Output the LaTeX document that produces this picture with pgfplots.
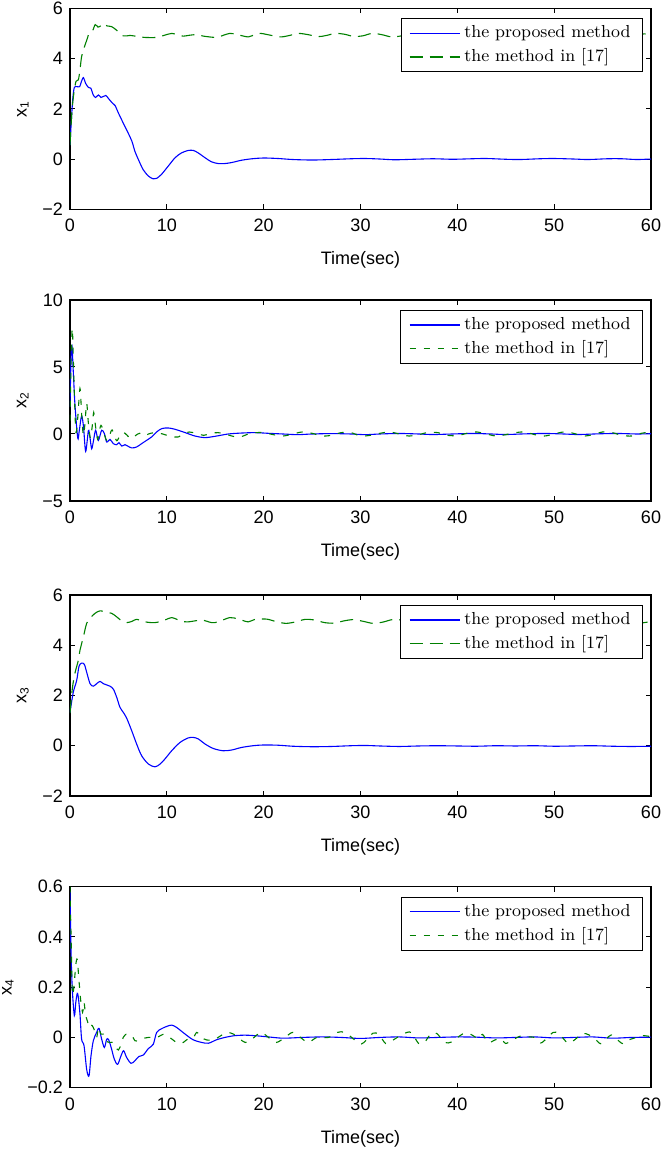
\documentclass[border=0pt]{standalone}
\usepackage{fontspec}
\setsansfont{Liberation Sans}
\usepackage{pgfplots}
\pgfplotsset{compat=1.18}
\definecolor{mblue}{rgb}{0,0,1}
\definecolor{mgreen}{rgb}{0,0.5,0}

\pgfplotsset{
  statefig/.style={
    scale only axis, width=290.5pt, height=100.5pt,
    xmin=0, xmax=60, xtick={0,10,...,60},
    xticklabels={0,10,20,30,40,50,60},
    tick align=inside, major tick length=2.5pt,
    axis line style={line width=0.6pt},
    every tick/.style={black, line width=0.5pt},
    ticklabel style={font=\sffamily\fontsize{9}{10}\selectfont},
    xticklabel style={yshift=-1.5pt},
    label style={font=\sffamily\fontsize{9}{10}\selectfont},
    xlabel={Time(sec)},
    xlabel style={yshift=-3pt},
    legend style={at={(1,1)}, anchor=north east, xshift=-4pt, yshift=-5pt,
      font=\rmfamily\fontsize{8.7}{10.5}\selectfont, draw=black, line width=0.5pt,
      inner xsep=4pt, inner ysep=1.5pt},
    legend cell align=left,
    legend image code/.code={\draw[#1, line width=0.7pt] (0pt,0pt) -- (25pt,0pt);},
  },
  prop/.style={mblue, line width=0.55pt, smooth},
  refA/.style={mgreen, line width=0.55pt, smooth, dash pattern=on 6.5pt off 3.5pt},
  refB/.style={mgreen, line width=0.55pt, smooth, dash pattern=on 3pt off 4pt},
}

\begin{document}
\begin{tikzpicture}
\useasboundingbox (0,0) rectangle (331pt,575pt);

% ---- x1
\begin{axis}[statefig, at={(35pt,570.85pt)}, anchor=north west,
  ymin=-2, ymax=6, ytick={-2,0,2,4,6}, yticklabels={−2,0,2,4,6},
  ylabel={x\textsubscript{1}}]
\addplot[prop] coordinates {
(0,0.55) (0.15,1.6) (0.3,2.45) (0.45,2.85) (0.7,2.88) (1.0,2.88) (1.15,3.05) (1.38,3.24)
(1.6,3.02) (1.9,2.85) (2.15,2.82) (2.4,2.55) (2.65,2.45) (2.93,2.55) (3.2,2.45) (3.45,2.49)
(3.7,2.53) (3.95,2.42) (4.3,2.26) (4.65,2.13) (5.0,1.83) (5.5,1.43) (6.0,1.04) (6.4,0.7)
(6.7,0.31) (7.06,-0.02) (7.55,-0.42) (8.1,-0.68) (8.6,-0.79) (8.95,-0.77) (9.45,-0.61)
(10.15,-0.28) (10.85,0.05) (11.5,0.24) (12.2,0.34) (12.75,0.34) (13.25,0.24) (13.95,0.05)
(14.6,-0.11) (15.3,-0.18) (16.0,-0.18) (16.7,-0.14) (17.7,-0.05) (18.8,0.01) (20,0.04)
(21.5,0.02) (23,-0.02) (25,-0.04) (27,-0.02) (29,0.01) (30.5,0.02) (32,0.0) (33.5,-0.03)
(35.5,-0.01) (37.5,0.01) (39.5,-0.01) (41.5,0.01) (43,0.02) (45,-0.01) (46.5,-0.02)
(48.5,0.01) (50,0.02) (52,0.0) (53.5,-0.02) (55.5,0.01) (57,0.01) (58.5,-0.02) (60,0.0)
};
\addlegendentry{the proposed method}
\addplot[refA] coordinates {
(0,0.55) (0.2,1.9) (0.4,2.62) (0.62,3.09) (0.86,3.15) (1.03,3.55) (1.2,4.08) (1.45,4.42)
(1.8,4.81) (2.0,5.04) (2.35,5.12) (2.6,5.35) (2.9,5.25) (3.1,5.28) (3.45,5.4) (3.8,5.3)
(4.3,5.27) (4.8,5.13) (5.5,4.9) (6.2,4.92) (6.9,4.88) (7.7,4.84) (8.95,4.84) (9.7,4.92)
(10.5,5.0) (11.2,4.94) (11.7,4.89) (12.4,4.93) (13.1,4.95) (13.8,4.89) (15.1,4.84)
(15.8,4.92) (16.5,5.0) (17.2,4.96) (18.4,4.86) (19.1,4.96) (19.7,5.0) (20.8,4.92)
(21.8,4.86) (22.8,4.93) (23.6,5.0) (24.6,4.95) (25.6,4.87) (26.5,4.92) (27.4,5.0)
(28.3,4.97) (29.3,4.88) (30.2,4.90) (31.2,5.0) (32.2,4.95) (33.2,4.86) (34.2,4.90)
(35.2,4.99) (36.1,4.96) (37.1,4.87) (38.1,4.91) (39.1,5.0) (40,4.95) (41,4.86) (42,4.91)
(43,5.0) (44,4.95) (45,4.86) (46,4.9) (47,4.99) (48,4.97) (49,4.88) (50,4.9) (51,5.0)
(52,4.96) (53,4.86) (54,4.9) (55,5.0) (56,4.96) (57,4.87) (58,4.88) (59,4.97) (60,4.99)
};
\addlegendentry{the method in [17]}
\end{axis}

% ---- x2
\begin{axis}[statefig, at={(35pt,425pt)}, anchor=north west,
  ymin=-5, ymax=10, ytick={-5,0,5,10}, yticklabels={−5,0,5,10},
  ylabel={x\textsubscript{2}}]
\addplot[prop] coordinates {
(0,2.0) (0.1,5.5) (0.2,6.6) (0.35,4.5) (0.52,2.1) (0.8,-0.3) (0.95,0.2) (1.2,1.35)
(1.4,0.5) (1.62,-1.3) (1.9,0.25) (2.05,-0.2) (2.24,-1.1) (2.45,-0.4) (2.65,0.28)
(2.93,-0.47) (3.27,0.28) (3.55,0.03) (3.79,-0.6) (4.13,-0.4) (4.47,-0.72) (4.82,-0.8)
(5.06,-0.65) (5.34,-0.9) (5.68,-0.8) (5.96,-0.9) (6.37,-1.04) (6.88,-0.97) (7.4,-0.72)
(7.92,-0.47) (8.43,-0.22) (8.95,0.15) (9.47,0.4) (10.15,0.45) (10.84,0.35) (11.9,0.1)
(12.9,-0.15) (13.94,-0.27) (15,-0.17) (16.35,0) (17.7,0.07) (19.1,0.1) (20.5,0.05)
(22,0.0) (23.5,-0.05) (25,0.0) (27,0.03) (29,0.0) (30.5,-0.05) (32,0.0) (34,0.04)
(36,0.0) (37.5,-0.04) (39.5,0.0) (41.5,0.04) (43.5,0.0) (45,-0.04) (47,0.01) (49,0.04)
(51,0.0) (52.5,-0.04) (54.5,0.01) (56.5,0.04) (58.5,0.0) (60,0.02)
};
\addlegendentry{the proposed method}
\addplot[refB] coordinates {
(0,1.0) (0.12,5.5) (0.24,7.9) (0.4,4.2) (0.6,0.2) (0.8,1.2) (1.03,3.4) (1.2,1.5)
(1.38,-0.1) (1.55,0.8) (1.72,2.3) (1.9,0.8) (2.1,-0.3) (2.3,0.6) (2.45,1.6) (2.65,0.5)
(2.85,-0.4) (3.0,0.1) (3.2,0.65) (3.45,0.2) (3.8,-0.5) (4.1,-0.1) (4.35,0.3) (4.8,-0.5)
(5.1,-0.2) (5.5,0.12) (5.9,-0.1) (6.3,-0.35) (6.8,-0.1) (7.2,0.05) (7.7,-0.15) (8.1,0.0)
(8.7,0.1) (9.3,0.05) (9.8,-0.05) (10.5,-0.2) (11.2,-0.22) (11.7,0.0) (12.3,0.15)
(13,0.05) (13.8,-0.1) (14.6,0.05) (15.3,0.1) (16,0.0) (17,-0.2) (17.7,-0.2) (18.4,0.0)
(19.2,0.1) (20,0.1) (21,-0.05) (22,-0.15) (23,0.0) (24,0.15) (25,0.05) (26,-0.15)
(27,-0.1) (28,0.1) (29,0.1) (30,-0.15) (31,-0.1) (32,0.05) (33,0.15) (34,0.0) (35,-0.15)
(36,-0.05) (37,0.12) (38,0.1) (39,-0.1) (40,-0.12) (41,0.05) (42,0.15) (43,0.0)
(44,-0.15) (45,-0.05) (46,0.1) (47,0.15) (48,-0.05) (49,-0.15) (50,0.0) (51,0.15)
(52,0.05) (53,-0.15) (54,-0.05) (55,0.15) (56,0.1) (57,-0.1) (58,-0.15) (59,0.05) (60,0.15)
};
\addlegendentry{the method in [17]}
\end{axis}

% ---- x3
\begin{axis}[statefig, at={(35pt,277.5pt)}, anchor=north west,
  ymin=-2, ymax=6, ytick={-2,0,2,4,6}, yticklabels={−2,0,2,4,6},
  ylabel={x\textsubscript{3}}]
\addplot[prop] coordinates {
(0,1.33) (0.34,2.13) (0.69,2.6) (0.93,3.16) (1.2,3.29) (1.48,3.24) (1.72,2.93)
(2.07,2.47) (2.41,2.37) (2.75,2.47) (3.1,2.56) (3.44,2.47) (3.79,2.42) (4.13,2.37)
(4.48,2.25) (4.82,1.93) (5.16,1.53) (5.5,1.33) (5.85,1.1) (6.37,0.6) (6.88,0.07)
(7.4,-0.4) (8.1,-0.73) (8.78,-0.84) (9.3,-0.73) (9.8,-0.53) (10.5,-0.2) (11.36,0.13)
(12.2,0.31) (12.74,0.33) (13.25,0.27) (13.94,0.07) (14.8,-0.11) (15.8,-0.2) (16.7,-0.17)
(17.7,-0.07) (18.9,0.0) (20,0.03) (21.5,0.02) (23,-0.02) (25,-0.04) (27,-0.03) (29,0.0)
(30.5,0.01) (32,-0.01) (34,-0.03) (36,-0.01) (38,0.0) (40,-0.01) (42,-0.02) (44,0.0)
(46,-0.01) (48,0.0) (50,-0.02) (52,-0.01) (54,0.0) (56,-0.02) (58,-0.03) (60,-0.02)
};
\addlegendentry{the proposed method}
\addplot[refA] coordinates {
(0,1.3) (0.25,2.3) (0.52,2.9) (0.86,3.4) (1.03,3.8) (1.38,4.33) (1.72,4.87) (2.07,5.07)
(2.58,5.27) (3.1,5.37) (3.6,5.33) (4.3,5.27) (4.82,5.13) (5.34,4.97) (5.85,4.9)
(6.4,4.95) (6.88,5.03) (7.75,4.93) (8.78,4.9) (9.8,5.0) (10.5,5.1) (11.5,4.96)
(12.2,4.93) (13.6,5.0) (14.63,4.9) (15.3,4.93) (16.5,5.1) (17.4,5.04) (18.4,4.93)
(19.1,5.03) (20.3,5.04) (21.3,4.94) (22.3,4.87) (23.3,4.93) (24.3,5.03) (25.3,5.0)
(26.3,4.9) (27.3,4.88) (28.3,4.97) (29.3,5.02) (30.3,4.95) (31.3,4.87) (32.3,4.92)
(33.3,5.02) (34.3,5.0) (35.3,4.9) (36.3,4.88) (37.3,4.97) (38.3,5.03) (39.3,4.95)
(40.3,4.87) (41.3,4.92) (42.3,5.02) (43.3,5.0) (44.3,4.9) (45.3,4.88) (46.3,4.97)
(47.3,5.03) (48.3,4.95) (49.3,4.87) (50.3,4.92) (51.3,5.02) (52.3,5.0) (53.3,4.9)
(54.3,4.88) (55.3,4.97) (56.3,5.03) (57.3,4.95) (58.3,4.87) (59.3,4.9) (60,4.95)
};
\addlegendentry{the method in [17]}
\end{axis}

% ---- x4
\begin{axis}[statefig, at={(35pt,131.65pt)}, anchor=north west,
  ymin=-0.2, ymax=0.6, ytick={-0.2,0,0.2,0.4,0.6}, yticklabels={−0.2,0,0.2,0.4,0.6},
  ylabel={x\textsubscript{4}}]
\addplot[prop] coordinates {
(0,0.58) (0.1,0.35) (0.24,0.19) (0.45,0.087) (0.6,0.14) (0.75,0.175) (0.86,0.16)
(1.03,0.093) (1.2,-0.007) (1.45,-0.033) (1.72,-0.127) (1.96,-0.153) (2.17,-0.073)
(2.41,-0.013) (2.75,0.02) (3.0,0.036) (3.27,-0.007) (3.55,-0.04) (3.79,-0.007)
(4.0,-0.01) (4.3,-0.047) (4.58,-0.087) (4.92,-0.107) (5.27,-0.073) (5.54,-0.053)
(5.85,-0.08) (6.3,-0.103) (6.7,-0.093) (7.1,-0.076) (7.57,-0.07) (8.1,-0.044)
(8.6,-0.027) (8.95,0.02) (9.47,0.035) (10.0,0.044) (10.5,0.049) (11.0,0.04) (11.9,0.013)
(12.7,-0.009) (13.6,-0.02) (14.3,-0.023) (15.15,-0.009) (16.0,0) (17.0,0.007)
(18.1,0.009) (19.1,0.007) (20.5,0.002) (22,-0.003) (24,0.0) (26,0.002) (28,0.0)
(30,-0.004) (32,0.0) (34,0.002) (36,-0.002) (38,0.0) (40,0.002) (42,0.001) (44,-0.002)
(46,0.0) (48,0.002) (50,-0.002) (52,0.0) (54,0.002) (56,-0.003) (58,0.0) (60,0.001)
};
\addlegendentry{the proposed method}
\addplot[refB] coordinates {
(0,0.6) (0.1,0.42) (0.24,0.18) (0.4,0.2) (0.6,0.29) (0.75,0.31) (0.9,0.24) (1.1,0.15)
(1.3,0.1) (1.45,0.14) (1.6,0.09) (1.8,0.065) (2.0,0.04) (2.2,0.05) (2.4,0.04) (2.6,0.02)
(2.76,0.0) (2.95,0.04) (3.2,0.013) (3.45,0.013) (3.7,-0.013) (4.1,-0.02) (4.5,-0.02)
(4.75,-0.04) (5.0,-0.05) (5.25,-0.03) (5.5,0.0) (5.8,0.013) (6.1,0.012) (6.4,0.007)
(6.7,-0.013) (7.0,-0.015) (7.5,-0.005) (8.1,0.0) (9.0,0.0) (9.65,0.013) (10.3,0.0)
(10.8,-0.015) (11.2,-0.024) (11.7,-0.02) (12.2,-0.005) (12.75,0.0) (13.1,0.02) (13.6,0.0)
(14.1,-0.01) (14.8,-0.01) (15.5,0.005) (16.2,0.02) (16.9,0.013) (17.5,-0.005)
(18.1,-0.02) (18.7,-0.01) (19.3,0.01) (19.8,0.02) (20.5,0.0) (21.3,-0.02) (22.2,0.0)
(23.0,0.02) (23.8,0.0) (24.6,-0.02) (25.5,0.0) (26.7,0.0) (27.6,0.02) (28.4,0.02)
(29.4,-0.01) (30.1,-0.026) (30.6,-0.01) (31.3,0.017) (31.9,0.012) (32.6,-0.024)
(33.3,-0.012) (34.0,0.005) (34.8,0.02) (35.3,0.018) (36.0,-0.024) (36.6,-0.02)
(37.3,0.016) (37.9,0.015) (38.7,-0.02) (39.4,-0.018) (40.2,0.005) (40.8,0.018)
(41.4,0.012) (42.2,-0.005) (42.6,0.012) (43.2,-0.02) (43.9,-0.01) (44.5,-0.005)
(45.0,-0.024) (45.7,-0.01) (46.5,0.005) (47.2,0.002) (48.0,0.0) (48.6,-0.022)
(49.2,-0.005) (49.9,0.02) (50.5,0.015) (51.4,-0.022) (52.1,-0.01) (52.9,0.016)
(53.6,0.01) (54.2,-0.005) (54.8,-0.025) (55.4,-0.005) (55.9,0.01) (56.4,-0.005)
(57.1,-0.025) (57.7,-0.01) (58.5,0.0) (59.2,0.007) (60,0.003)
};
\addlegendentry{the method in [17]}
\end{axis}
\end{tikzpicture}
\end{document}
